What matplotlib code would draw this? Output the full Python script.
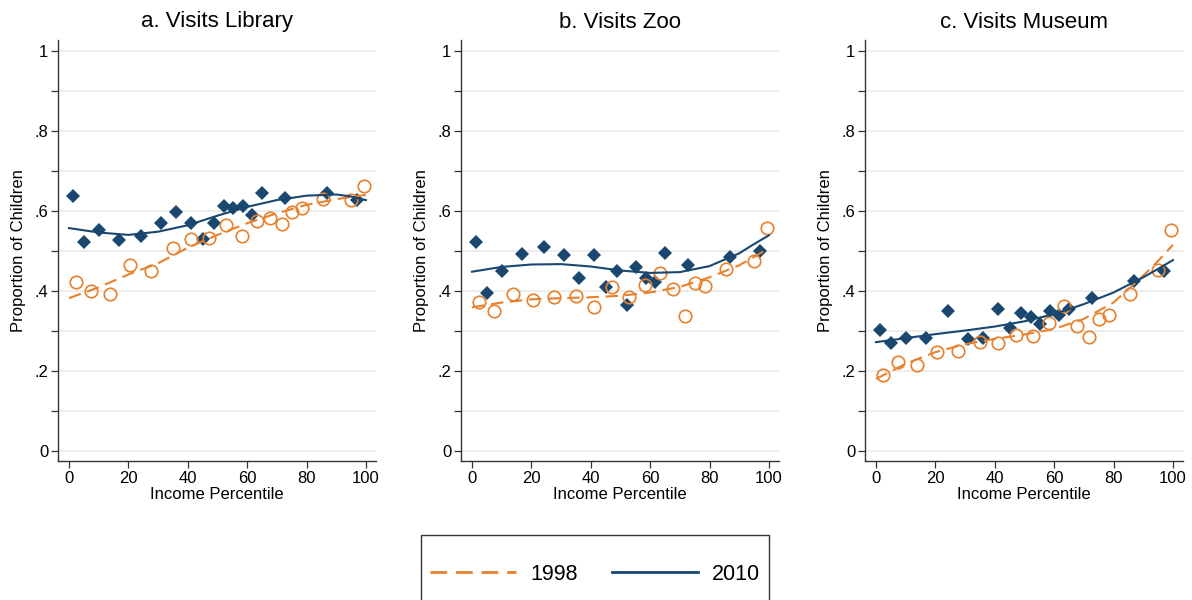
import matplotlib
matplotlib.use('Agg')
import matplotlib.pyplot as plt
from matplotlib.lines import Line2D
from matplotlib.patches import Rectangle
from matplotlib.ticker import FixedLocator

plt.rcParams['font.family'] = ['Liberation Sans', 'DejaVu Sans']

## data ##

titles = ['a. Visits Library', 'b. Visits Zoo', 'c. Visits Museum']

# income percentile bins (same in every panel)
x_2010 = [1.3, 5.0, 10.2, 16.8, 24.3, 31.0, 36.0, 41.1, 45.1, 48.7,
          52.2, 55.2, 58.5, 61.5, 64.9, 72.8, 86.9, 96.9]
x_1998 = [2.2, 7.3, 13.7, 20.6, 27.6, 34.9, 41.2, 47.3, 52.9, 58.4,
          63.3, 67.6, 71.9, 75.2, 78.5, 85.6, 95.0, 99.3]

library_2010 = [0.638, 0.522, 0.551, 0.526, 0.537, 0.570, 0.598, 0.569, 0.529, 0.570,
                0.612, 0.607, 0.611, 0.590, 0.645, 0.632, 0.645, 0.628]
library_1998 = [0.422, 0.400, 0.392, 0.466, 0.449, 0.508, 0.529, 0.532, 0.565, 0.537,
                0.574, 0.583, 0.568, 0.597, 0.608, 0.630, 0.628, 0.663]

zoo_2010 = [0.522, 0.395, 0.451, 0.493, 0.509, 0.490, 0.433, 0.489, 0.411, 0.451,
            0.366, 0.461, 0.432, 0.422, 0.495, 0.464, 0.486, 0.500]
zoo_1998 = [0.372, 0.350, 0.393, 0.377, 0.385, 0.387, 0.360, 0.410, 0.385, 0.416,
            0.445, 0.404, 0.337, 0.421, 0.412, 0.454, 0.476, 0.557]

museum_2010 = [0.303, 0.269, 0.283, 0.283, 0.350, 0.279, 0.283, 0.354, 0.308, 0.346,
               0.335, 0.318, 0.350, 0.341, 0.356, 0.382, 0.426, 0.449]
museum_1998 = [0.191, 0.223, 0.214, 0.248, 0.250, 0.273, 0.270, 0.289, 0.287, 0.321,
               0.362, 0.312, 0.285, 0.331, 0.339, 0.393, 0.453, 0.553]

# fitted curves, read at these percentiles
fit_x = [0, 10, 20, 30, 40, 50, 60, 70, 80, 90, 95, 100]

library_fit_2010 = [0.557, 0.546, 0.540, 0.548, 0.564, 0.588, 0.610, 0.627, 0.638, 0.641, 0.636, 0.627]
library_fit_1998 = [0.382, 0.409, 0.441, 0.469, 0.508, 0.540, 0.569, 0.594, 0.615, 0.629, 0.635, 0.640]

zoo_fit_2010 = [0.448, 0.460, 0.466, 0.467, 0.461, 0.451, 0.445, 0.447, 0.462, 0.494, 0.517, 0.539]
zoo_fit_1998 = [0.359, 0.371, 0.379, 0.382, 0.384, 0.388, 0.396, 0.410, 0.434, 0.464, 0.485, 0.507]

museum_fit_2010 = [0.272, 0.282, 0.292, 0.301, 0.311, 0.324, 0.342, 0.367, 0.396, 0.434, 0.455, 0.477]
museum_fit_1998 = [0.180, 0.218, 0.247, 0.267, 0.280, 0.291, 0.305, 0.330, 0.371, 0.438, 0.475, 0.515]

panels = [(library_1998, library_2010, library_fit_1998, library_fit_2010),
          (zoo_1998, zoo_2010, zoo_fit_1998, zoo_fit_2010),
          (museum_1998, museum_2010, museum_fit_1998, museum_fit_2010)]

orange = '#e8802c'
navy = '#1a476f'

fig = plt.figure(figsize=(11.92, 6), dpi=100)

lefts = [58, 461, 865]
for i, (y98, y10, f98, f10) in enumerate(panels):
    ax = fig.add_axes([lefts[i] / 1192, 1 - 461 / 600, 318 / 1192, 421 / 600])

    ax.plot(x_2010, y10, 'D', color=navy, markersize=7.5, markeredgewidth=0, zorder=3)
    ax.plot(x_1998, y98, 'o', mfc='none', mec=orange, markersize=9, markeredgewidth=1.2, zorder=3)
    ax.plot(fit_x, f98, color=orange, lw=1.5, dashes=(6, 3.2), zorder=4)
    ax.plot(fit_x, f10, color=navy, lw=1.5, zorder=4)

    ax.set_xlim(-3.7, 103.4)
    ax.set_ylim(-0.025, 1.027)
    ax.set_xticks([0, 20, 40, 60, 80, 100])
    ax.yaxis.set_major_locator(FixedLocator([0, 0.2, 0.4, 0.6, 0.8, 1.0]))
    ax.set_yticklabels(['0', '.2', '.4', '.6', '.8', '1'])
    ax.yaxis.set_minor_locator(FixedLocator([0.1, 0.3, 0.5, 0.7, 0.9]))
    ax.grid(axis='y', which='both', color='#e8e8e8', lw=1.1, zorder=0)
    ax.set_axisbelow(True)

    ax.spines['top'].set_visible(False)
    ax.spines['right'].set_visible(False)
    for s in ['left', 'bottom']:
        ax.spines[s].set_color('#333333')
        ax.spines[s].set_linewidth(1.0)
    ax.tick_params(which='both', direction='out', length=5, width=0.9, color='#333333',
                   labelsize=12, pad=2)
    ax.tick_params(which='minor', labelleft=False)

    ax.set_title(titles[i], fontsize=16, pad=9)
    ax.set_xlabel('Income Percentile', fontsize=12, labelpad=1)
    ax.set_ylabel('Proportion of Children', fontsize=12, labelpad=6)

# legend box runs off the bottom edge
fig.patches.append(Rectangle((421 / 1192, -0.05), 348 / 1192, (600 - 535) / 600 + 0.05,
                             transform=fig.transFigure, fill=False,
                             edgecolor='#333333', lw=1.0))
handles = [Line2D([], [], color=orange, lw=2, dashes=(6, 3.2)),
           Line2D([], [], color=navy, lw=2)]
fig.legend(handles, ['1998', '2010'], loc='center', bbox_to_anchor=(595 / 1192, 1 - 574 / 600),
           ncol=2, frameon=False, fontsize=15.5, handlelength=4.0, handletextpad=0.65,
           columnspacing=1.6)

fig.savefig('out.png', dpi=100)
